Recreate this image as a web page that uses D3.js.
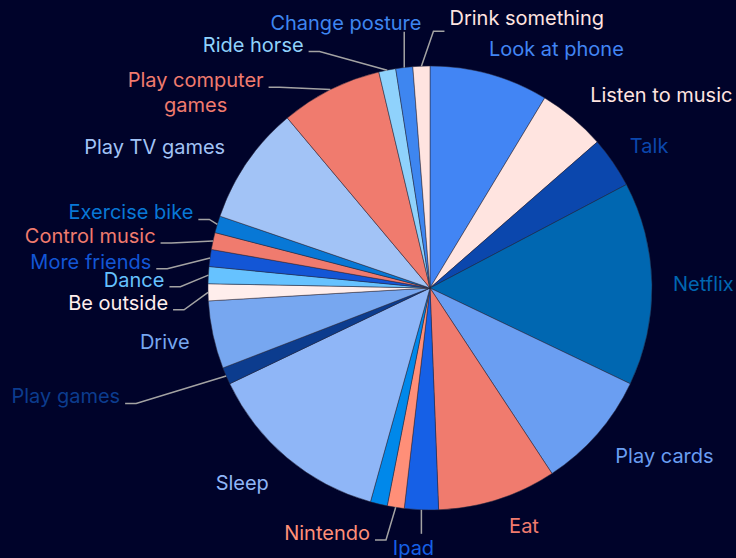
<!DOCTYPE html>
<html>
<head>
<meta charset="utf-8">
<script src="https://cdn.jsdelivr.net/npm/d3@7"></script>
<style>
  html, body { margin: 0; padding: 0; background: #00032a; }
  svg { display: block; }
  text { font-family: Inter, "Noto Sans", sans-serif; }
</style>
</head>
<body>
<svg id="chart" width="736" height="558"></svg>
<script>
// Activities, clockwise from 12 o'clock
const activities = [
  "Look at phone", "Listen to music", "Talk", "Netflix", "Play cards", "Eat",
  "Ipad", "Nintendo", "Other", "Sleep", "Play games", "Drive", "Be outside",
  "Dance", "More friends", "Control music", "Exercise bike", "Play TV games",
  "Play computer games", "Ride horse", "Change posture", "Drink something"
];
const counts = [7, 4, 3, 12, 7, 7, 2, 1, 1, 11, 1, 4, 1, 1, 1, 1, 1, 7, 6, 1, 1, 1];
const sliceColors = [
  "#4285f4", "#ffe4e0", "#0b47ad", "#0067b1", "#6a9ef2", "#f07b6e",
  "#1660e6", "#ff8f78", "#0088ea", "#8fb6f7", "#0c3c8e", "#77a7f0", "#ffeeec",
  "#66c2ff", "#1356d6", "#f07b6e", "#0878d6", "#a2c3f6",
  "#f07b6e", "#8fd2fc", "#3e86f0", "#ffe4e0"
];

// Label placement tweaks around the default ring position (pixels)
const labelTweaks = {
  "Look at phone":       { dx: -7,  dy: -2 },
  "Listen to music":     { dx: 2,   dy: -5 },
  "Talk":                { dx: -3,  dy: -3 },
  "Netflix":             { dx: -3,  dy: 1 },
  "Play cards":          { dx: 0,   dy: 6 },
  "Eat":                 { dx: 4,   dy: 4 },
  "Ipad":                { dx: -7,  dy: 14, link: "down", align: "middle" },
  "Nintendo":            { dx: -22, dy: 2,  link: "elbow" },
  "Sleep":               { dx: -3,  dy: 7 },
  "Play games":          { dx: -84, dy: 11, link: "elbow" },
  "Drive":               { dx: 0,   dy: 2 },
  "Be outside":          { dx: -16, dy: 10, link: "elbow" },
  "Dance":               { dx: -20, dy: 6,  link: "elbow" },
  "More friends":        { dx: -35, dy: 7,  link: "elbow" },
  "Control music":       { dx: -34, dy: 0,  link: "elbow" },
  "Exercise bike":       { dx: -1,  dy: -5, link: "elbow" },
  "Play TV games":       { dx: -2,  dy: -2 },
  "Play computer games": { dx: -56, dy: 12, link: "elbow", wrap: 150 },
  "Ride horse":          { dx: -79, dy: -2, link: "elbow" },
  "Change posture":      { dx: 20,  dy: -21, link: "up" },
  "Drink something":     { dx: 29,  dy: -24, link: "elbow" }
};

const width = 736, height = 558;
const cx = 430, cy = 288, radius = 222, labelRadius = 246;
const fontSize = 20, lineHeight = 25;
const linkColor = "#a3a3a3";

const svg = d3.select("#chart");
svg.append("rect").attr("width", width).attr("height", height).attr("fill", "#00032a");

const color = d3.scaleOrdinal().domain(activities).range(sliceColors);

const data = activities.map((name, i) => ({ name, value: counts[i] }));
const pie = d3.pie().sort(null).value(d => d.value).startAngle(0).endAngle(2 * Math.PI);
const arcs = pie(data);
const arc = d3.arc().innerRadius(0).outerRadius(radius);

const g = svg.append("g").attr("transform", `translate(${cx},${cy})`);

g.selectAll("path.slice")
  .data(arcs)
  .join("path")
  .attr("class", "slice")
  .attr("d", arc)
  .attr("fill", d => color(d.data.name))
  .attr("stroke", "#2a2a3c")
  .attr("stroke-width", 0.5)
  .attr("stroke-linejoin", "round");

const linkLayer = g.append("g");
const labelLayer = g.append("g");

function polar(angle, r) {
  return [Math.sin(angle) * r, -Math.cos(angle) * r];
}

arcs.forEach(d => {
  const tweak = labelTweaks[d.data.name];
  if (!tweak) return; // label suppressed
  const mid = (d.startAngle + d.endAngle) / 2;
  const [ix, iy] = polar(mid, labelRadius);
  const x = ix + tweak.dx;
  const y = iy + tweak.dy;
  const anchor = tweak.align || (x >= 0 ? "start" : "end");
  const fill = color(d.data.name);

  const text = labelLayer.append("text")
    .attr("fill", fill)
    .attr("font-size", fontSize);

  const edgeX = x;  // text edge nearest the pie
  const lineY = y;  // vertical centre of first line
  if (tweak.wrap) {
    // split into lines that fit the wrap width, centred as a block
    const words = d.data.name.split(" ");
    const lines = [];
    let current = [];
    const probe = text.append("tspan");
    words.forEach(w => {
      const trial = current.concat(w).join(" ");
      probe.text(trial);
      if (probe.node().getComputedTextLength() > tweak.wrap && current.length) {
        lines.push(current.join(" "));
        current = [w];
      } else {
        current.push(w);
      }
    });
    lines.push(current.join(" "));
    probe.remove();
    const widths = lines.map(l => {
      const t = text.append("tspan").text(l);
      const w = t.node().getComputedTextLength();
      t.remove();
      return w;
    });
    const maxW = d3.max(widths);
    const centreX = anchor === "end" ? x - maxW / 2 : x + maxW / 2;
    text.attr("text-anchor", "middle");
    lines.forEach((l, i) => {
      text.append("tspan")
        .attr("x", centreX)
        .attr("y", y + i * lineHeight)
        .attr("dy", "0.35em")
        .text(l);
    });
  } else {
    text.attr("x", x).attr("y", y).attr("dy", "0.35em")
      .attr("text-anchor", anchor)
      .text(d.data.name);
  }

  if (!tweak.link) return;
  const [ex, ey] = polar(mid, radius);
  let pts;
  if (tweak.link === "elbow") {
    const dir = anchor === "end" ? 1 : -1;
    const base = lineY + fontSize * 0.35 + (anchor === "end" ? 0 : 6);
    pts = [[edgeX + dir * 5, base], [edgeX + dir * 16, base], [ex, ey]];
  } else if (tweak.link === "up") {
    pts = [[ex, ey], [ex, lineY + fontSize * 0.35 + 2]];
  } else {
    pts = [[ex, ey], [ex, lineY - 14]];
  }
  linkLayer.append("path")
    .attr("d", d3.line()(pts))
    .attr("fill", "none")
    .attr("stroke", linkColor)
    .attr("stroke-width", 1.5);
});
</script>
</body>
</html>
